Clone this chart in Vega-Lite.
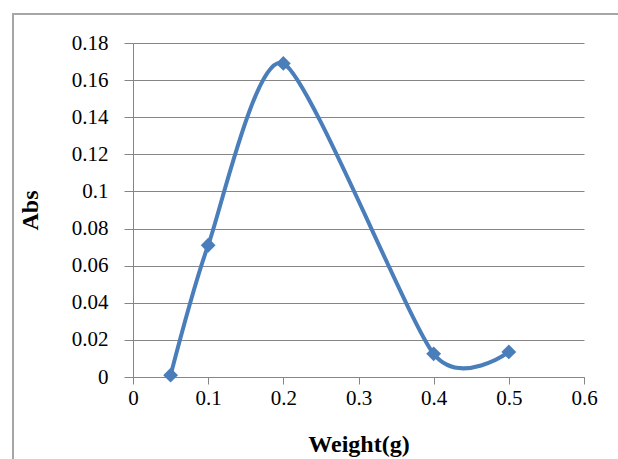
{
  "$schema": "https://vega.github.io/schema/vega-lite/v6.json",
  "width": 451,
  "height": 334,
  "autosize": {"type": "none"},
  "padding": {"left": 133, "top": 43, "right": 34, "bottom": 82},
  "background": "white",
  "config": {
    "view": {"stroke": null},
    "font": "Liberation Serif",
    "axis": {
      "labelFont": "Liberation Serif",
      "titleFont": "Liberation Serif",
      "labelColor": "#000000",
      "titleColor": "#000000",
      "domainColor": "#868686",
      "tickColor": "#868686",
      "gridColor": "#868686",
      "labelFontSize": 21,
      "titleFontSize": 24,
      "titleFontWeight": "bold"
    }
  },
  "data": {
    "values": [
      {"weight": 0.05, "abs": 0.001},
      {"weight": 0.1, "abs": 0.071},
      {"weight": 0.2, "abs": 0.169},
      {"weight": 0.4, "abs": 0.0125},
      {"weight": 0.5, "abs": 0.0135}
    ]
  },
  "layer": [
    {
      "mark": {"type": "line", "interpolate": "cardinal", "tension": 0.3, "color": "#4a7ebb", "strokeWidth": 4},
      "encoding": {
        "x": {
          "field": "weight", "type": "quantitative",
          "scale": {"domain": [0, 0.6], "nice": false, "zero": false},
          "axis": {
            "title": "Weight(g)", "values": [0, 0.1, 0.2, 0.3, 0.4, 0.5, 0.6], "format": "~g",
            "grid": false, "tickSize": 7, "labelPadding": 3, "titlePadding": 24,
            "labelFlush": false, "labelOverlap": false
          }
        },
        "y": {
          "field": "abs", "type": "quantitative",
          "scale": {"domain": [0, 0.18], "nice": false, "zero": false},
          "axis": {
            "title": "Abs", "values": [0, 0.02, 0.04, 0.06, 0.08, 0.1, 0.12, 0.14, 0.16, 0.18],
            "format": "~g", "grid": true, "tickSize": 9, "labelPadding": 16, "titlePadding": 29,
            "labelFlush": false, "labelOverlap": false
          }
        }
      }
    },
    {
      "mark": {"type": "point", "shape": "diamond", "filled": true, "color": "#4a7ebb", "size": 220, "opacity": 1},
      "encoding": {
        "x": {
          "field": "weight", "type": "quantitative",
          "axis": {
            "title": "Weight(g)", "values": [0, 0.1, 0.2, 0.3, 0.4, 0.5, 0.6], "format": "~g",
            "grid": false, "tickSize": 7, "labelPadding": 3, "titlePadding": 24,
            "labelFlush": false, "labelOverlap": false
          }
        },
        "y": {
          "field": "abs", "type": "quantitative",
          "axis": {
            "title": "Abs", "values": [0, 0.02, 0.04, 0.06, 0.08, 0.1, 0.12, 0.14, 0.16, 0.18],
            "format": "~g", "grid": true, "tickSize": 9, "labelPadding": 16, "titlePadding": 29,
            "labelFlush": false, "labelOverlap": false
          }
        }
      }
    },
    {
      "mark": {"type": "rect", "fill": null, "stroke": "#a6a6a6", "strokeWidth": 1.5, "clip": false},
      "encoding": {
        "x": {
          "datum": -0.1596, "type": "quantitative",
          "axis": {
            "title": "Weight(g)", "values": [0, 0.1, 0.2, 0.3, 0.4, 0.5, 0.6], "format": "~g",
            "grid": false, "tickSize": 7, "labelPadding": 3, "titlePadding": 24,
            "labelFlush": false, "labelOverlap": false
          }
        },
        "x2": {"datum": 0.75},
        "y": {
          "datum": 0.1956, "type": "quantitative",
          "axis": {
            "title": "Abs", "values": [0, 0.02, 0.04, 0.06, 0.08, 0.1, 0.12, 0.14, 0.16, 0.18],
            "format": "~g", "grid": true, "tickSize": 9, "labelPadding": 16, "titlePadding": 29,
            "labelFlush": false, "labelOverlap": false
          }
        },
        "y2": {"datum": -0.08}
      }
    }
  ]
}
